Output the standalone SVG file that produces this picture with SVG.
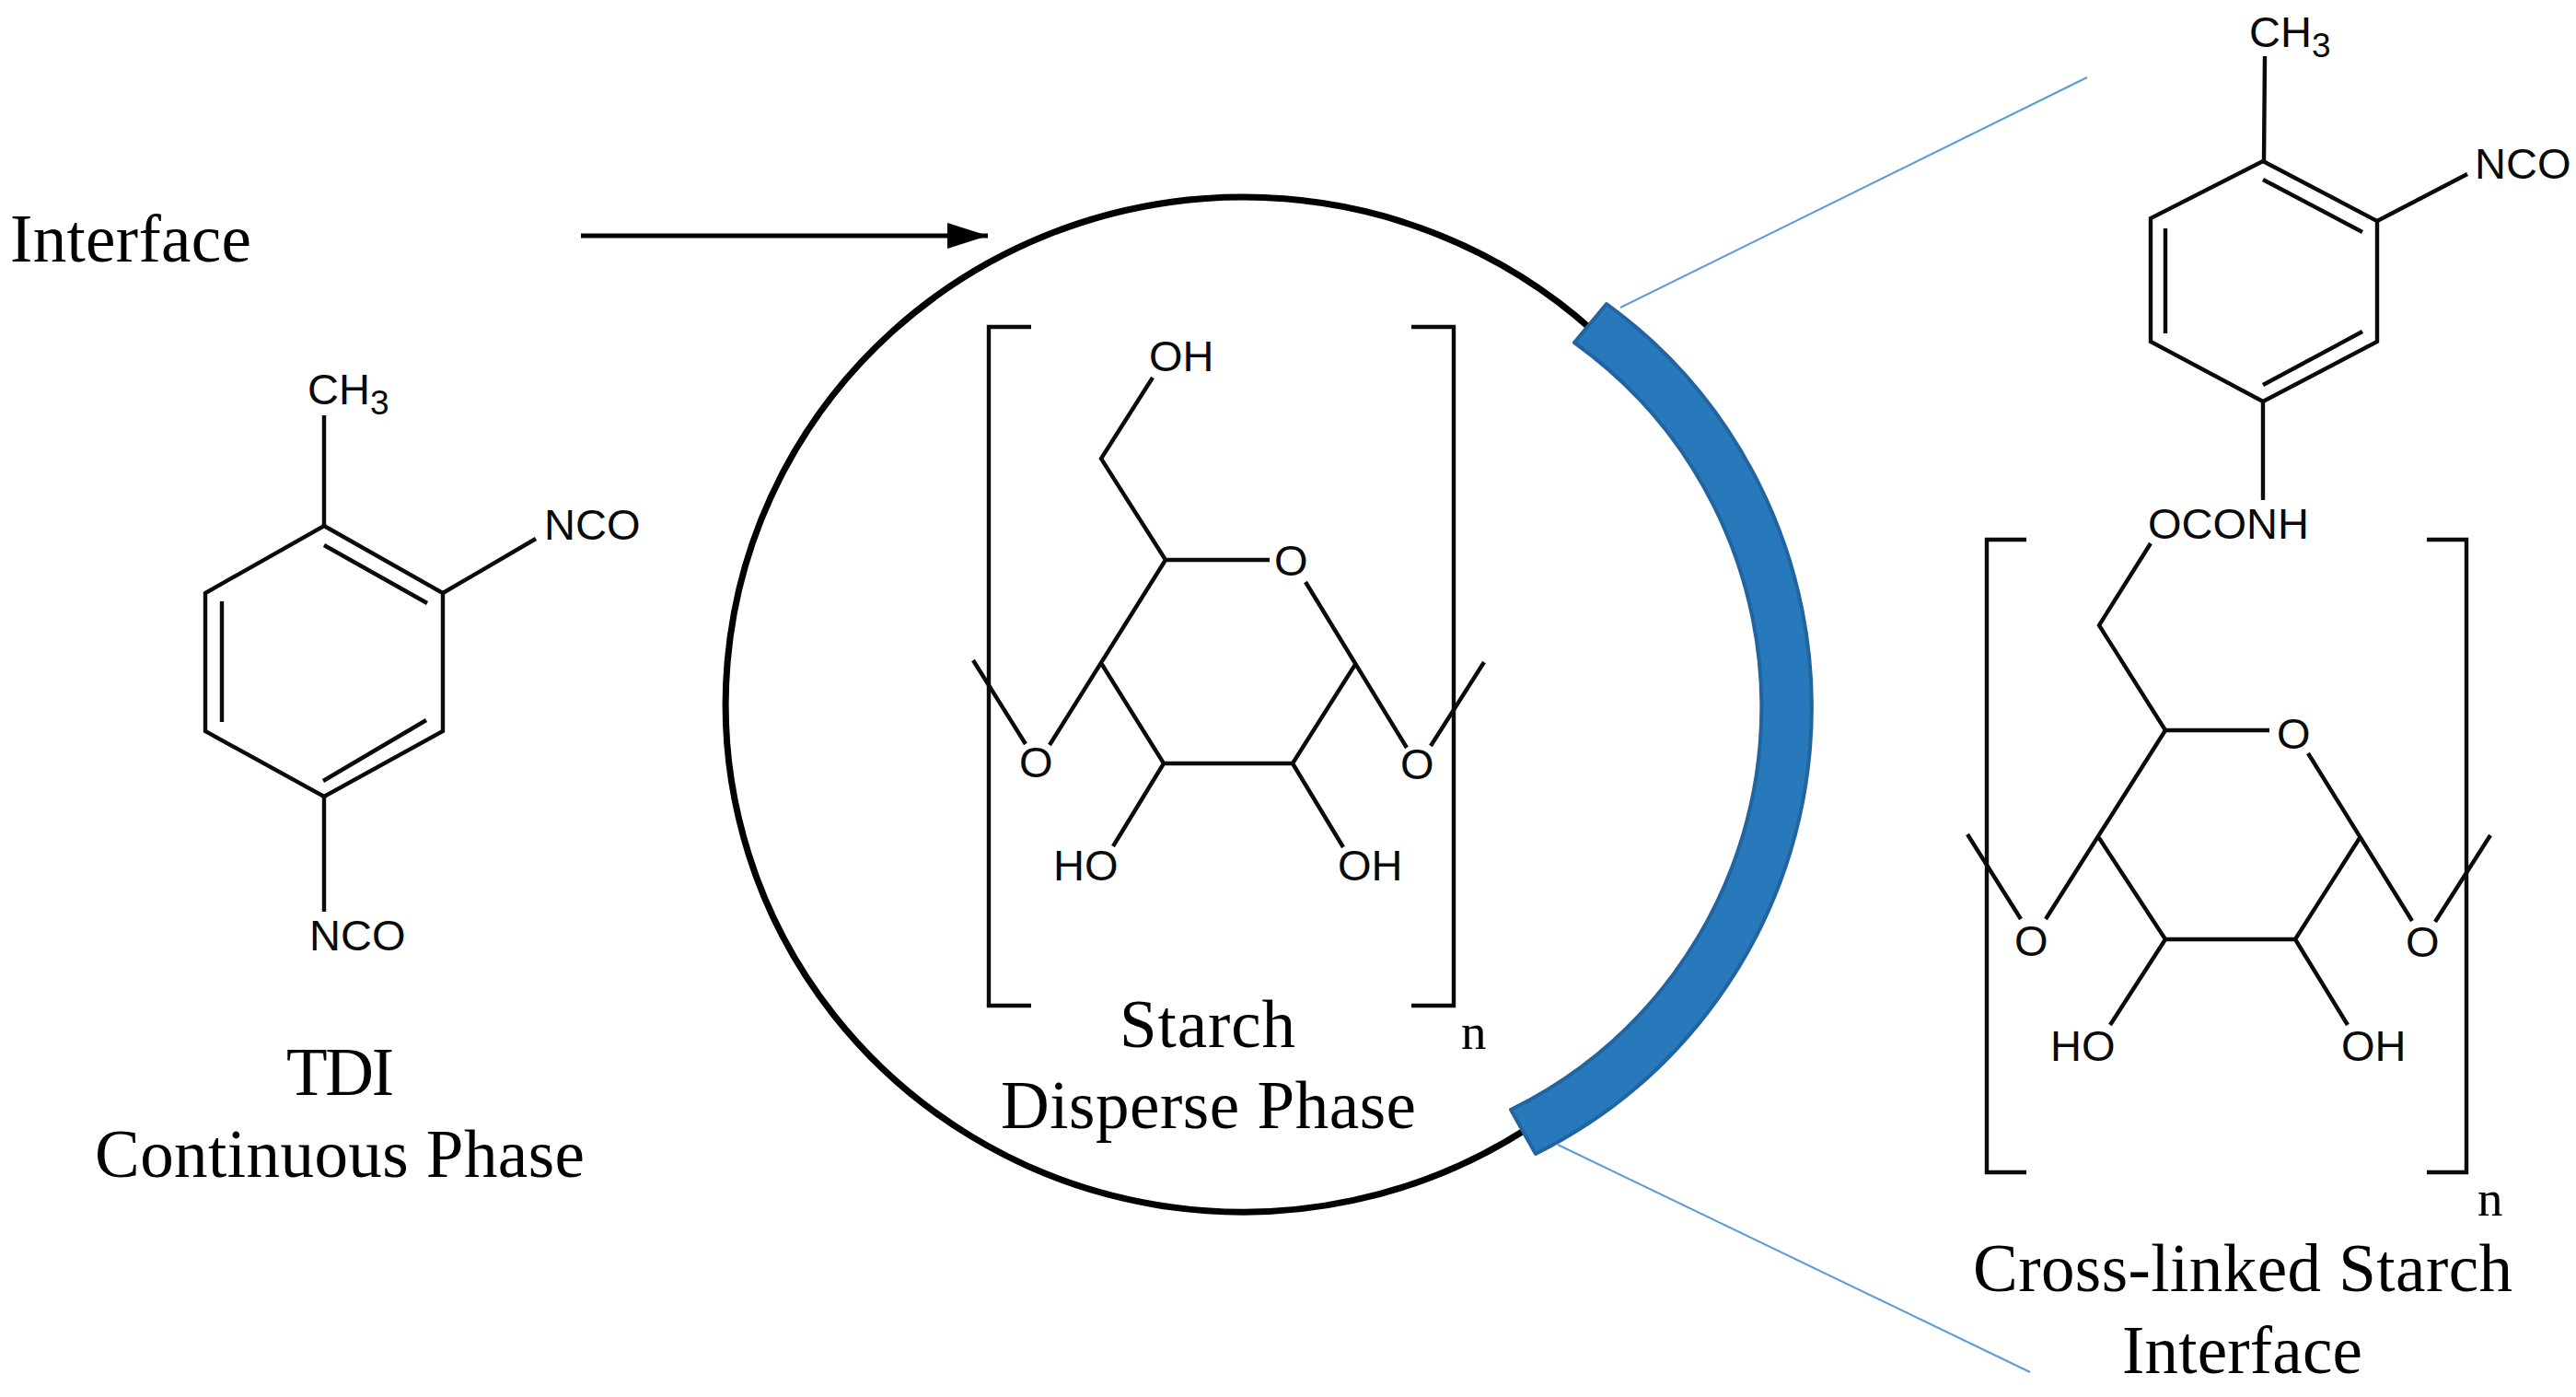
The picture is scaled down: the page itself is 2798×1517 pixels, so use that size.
<svg xmlns="http://www.w3.org/2000/svg" width="2798" height="1517" viewBox="0 0 2798 1517">
<style>
.b{fill:none;stroke:#0a0a0a;stroke-width:4.4;stroke-linejoin:miter;stroke-linecap:butt}
.a{font-family:"Liberation Sans",Arial,sans-serif;font-size:47px;fill:#0a0a0a}
.s{font-size:37px}
.t{font-family:"Liberation Serif","Times New Roman",serif;font-size:73px;fill:#000}
.n{font-family:"Liberation Serif","Times New Roman",serif;font-size:55px;fill:#000}
.c{fill:none;stroke:#5b9bd5;stroke-width:2}
</style>
<defs>
<marker id="ah" markerUnits="userSpaceOnUse" markerWidth="46" markerHeight="30" refX="44" refY="14" orient="auto"><path d="M0 0L44 14L0 28Z" fill="#000"/></marker>
</defs>
<rect width="2798" height="1517" fill="#fff"/>
<g id="interface-label"><text class="t" x="11" y="284" textLength="262">Interface</text></g>
<g id="tdi">
<path class="b" d="M352 571L481 644V794L352 865L223 794V644Z"/>
<path class="b" d="M352 592L464 655M241 653V784M351 848L463 782M352 571V451M481 644L582 585M352 865V990"/>
<text class="a" x="334" y="439">CH<tspan class="s" dy="11">3</tspan></text>
<text class="a" x="591" y="586">NCO</text>
<text class="a" x="336" y="1032">NCO</text>
<text class="t" x="311" y="1189" textLength="117">TDI</text>
<text class="t" x="103" y="1278" textLength="532">Continuous Phase</text>
</g>
<g id="droplet">
<path d="M1730 359A562 551 0 1 0 1655 1228" fill="none" stroke="#000" stroke-width="7"/>
<path d="M1745 330A542 542 0 0 1 1668 1253L1641 1205A487 487 0 0 0 1710 372Z" fill="#2878bc" stroke="#22649f" stroke-width="4" stroke-linejoin="round"/>
</g>
<g id="starch">
<path class="b" d="M1120 355H1074V1092H1120M1533 355H1579V1092H1533"/>
<path class="b" d="M1252 410L1196 498L1266 608H1379M1418 632L1528 812M1473 720L1404 829H1264L1196 720M1266 608L1140 809M1114 808L1057 717M1554 810L1612 719M1264 829L1209 919M1404 829L1459 920"/>
<text class="a" x="1248" y="403">OH</text>
<text class="a" x="1384" y="625">O</text>
<text class="a" x="1107" y="844">O</text>
<text class="a" x="1521" y="846">O</text>
<text class="a" x="1144" y="956">HO</text>
<text class="a" x="1453" y="956">OH</text>
<text class="t" x="1216" y="1137" textLength="191">Starch</text>
<text class="t" x="1087" y="1225" textLength="451">Disperse Phase</text>
<text class="n" x="1587" y="1139">n</text>
</g>
<g id="crosslinked">
<path class="b" d="M2458 175L2582 240V371L2458 436L2336 371V237Z"/>
<path class="b" d="M2458 195L2566 252M2352 248V362M2458 418L2566 360M2460 61L2459 175M2582 240L2680 189M2458 436V543"/>
<path class="b" d="M2201 586H2158V1273H2201M2636 586H2679V1273H2636"/>
<path class="b" d="M2336 590L2280 679L2352 793H2465M2507 818L2620 1000M2563 910L2493 1020H2352L2280 910M2352 793L2222 998M2195 998L2137 906M2645 1001L2705 907M2352 1020L2292 1113M2493 1020L2550 1113"/>
<text class="a" x="2443" y="51">CH<tspan class="s" dy="11">3</tspan></text>
<text class="a" x="2688" y="194">NCO</text>
<text class="a" x="2333" y="585">OCONH</text>
<text class="a" x="2473" y="813">O</text>
<text class="a" x="2188" y="1038">O</text>
<text class="a" x="2613" y="1039">O</text>
<text class="a" x="2227" y="1152">HO</text>
<text class="a" x="2543" y="1152">OH</text>
<text class="n" x="2691" y="1320">n</text>
<text class="t" x="2143" y="1402" textLength="586">Cross-linked Starch</text>
<text class="t" x="2305" y="1491" textLength="261">Interface</text>
</g>
<g id="connectors">
<path d="M631 256H1073" fill="none" stroke="#000" stroke-width="5" marker-end="url(#ah)"/>
<path class="c" d="M1760 334L2267 84"/>
<path class="c" d="M1692 1243L2205 1490"/>
</g>
</svg>
